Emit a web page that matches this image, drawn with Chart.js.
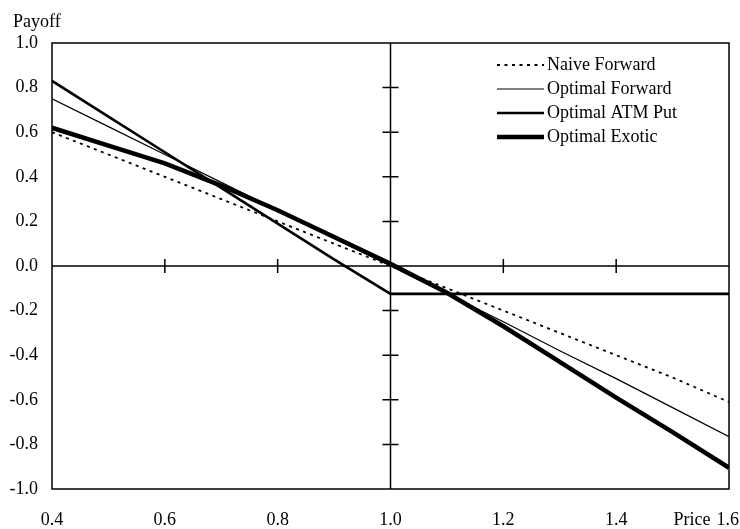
<!DOCTYPE html>
<html>
<head>
<meta charset="utf-8">
<script src="https://cdn.jsdelivr.net/npm/chart.js@4.4.1/dist/chart.umd.min.js"></script>
<style>
  html, body { margin: 0; padding: 0; background: #fff; }
  #wrap { width: 740px; height: 529px; }
</style>
</head>
<body>
<div id="wrap"><canvas id="payoffChart" width="740" height="529"></canvas></div>
<script>
// prices on the x axis
const prices = [0.4, 0.5, 0.6, 0.7, 0.8, 0.9, 1.0, 1.1, 1.2, 1.3, 1.4, 1.5, 1.6];

// payoff of each hedge
const naiveForward   = [0.60, 0.50, 0.40, 0.30, 0.20, 0.10, 0.00, -0.10, -0.20, -0.30, -0.40, -0.50, -0.61];
const optimalForward = [0.75, 0.625, 0.50, 0.375, 0.25, 0.125, 0.00, -0.125, -0.25, -0.38, -0.505, -0.635, -0.765];
const optimalAtmPut  = [0.83, 0.67, 0.51, 0.35, 0.19, 0.03, -0.125, -0.125, -0.125, -0.125, -0.125, -0.125, -0.125];
const optimalExotic  = [0.62, 0.54, 0.46, 0.36, 0.25, 0.13, 0.01, -0.12, -0.27, -0.43, -0.59, -0.745, -0.905];

const seriesNames = ['Naive Forward', 'Optimal Forward', 'Optimal ATM Put', 'Optimal Exotic'];

// tick values
const xTicks = [0.4, 0.6, 0.8, 1.0, 1.2, 1.4, 1.6];
const yTicks = [-1.0, -0.8, -0.6, -0.4, -0.2, 0.0, 0.2, 0.4, 0.6, 0.8, 1.0];

const FONT = "'Liberation Serif', 'Times New Roman', serif";

function pts(values) {
    return prices.map((p, i) => ({ x: p, y: values[i] }));
}

// frame, the cross axes through (1.0, 0) with their ticks, the legend and axis names
const paperPlugin = {
    id: 'paper',
    afterDatasetsDraw(chart) {
        const ctx = chart.ctx;
        const a = chart.chartArea;
        const xs = chart.scales.x;
        const ys = chart.scales.y;
        const cx = xs.getPixelForValue(1.0);
        const cy = ys.getPixelForValue(0);

        ctx.save();
        ctx.strokeStyle = '#000';
        ctx.lineWidth = 1.5;
        ctx.setLineDash([]);

        // frame
        ctx.strokeRect(a.left, a.top, a.right - a.left, a.bottom - a.top);

        // cross axes
        ctx.beginPath();
        ctx.moveTo(cx, a.top);
        ctx.lineTo(cx, a.bottom);
        ctx.moveTo(a.left, cy);
        ctx.lineTo(a.right, cy);
        ctx.stroke();

        // ticks on the vertical axis
        ctx.beginPath();
        yTicks.forEach(v => {
            if (v === 0 || Math.abs(v) === 1) return;
            const y = ys.getPixelForValue(v);
            ctx.moveTo(cx - 8, y);
            ctx.lineTo(cx + 8, y);
        });
        // ticks on the horizontal axis
        xTicks.forEach(v => {
            if (v === 1.0 || v === 0.4 || v === 1.6) return;
            const x = xs.getPixelForValue(v);
            ctx.moveTo(x, cy - 7);
            ctx.lineTo(x, cy + 7);
        });
        ctx.stroke();

        // axis names, and the last x label pushed inside the canvas
        ctx.fillStyle = '#000';
        ctx.font = '18px ' + FONT;
        ctx.textBaseline = 'middle';
        ctx.textAlign = 'left';
        ctx.fillText('Payoff', 13, 22);
        ctx.textAlign = 'center';
        ctx.fillText('Price', xs.getPixelForValue(1.6) - 37, a.bottom + 31);
        ctx.textAlign = 'right';
        ctx.fillText(xTicks[xTicks.length - 1].toFixed(1), xs.getPixelForValue(1.6) + 10, a.bottom + 31);

        // legend
        chart.data.datasets.forEach((ds, i) => {
            const y = a.top + 22 + i * 24;
            const x0 = a.right - 232;
            ctx.beginPath();
            ctx.lineWidth = ds.borderWidth;
            ctx.setLineDash(ds.borderDash || []);
            ctx.moveTo(x0, y);
            ctx.lineTo(x0 + 47, y);
            ctx.stroke();
            ctx.setLineDash([]);
            ctx.textAlign = 'left';
            ctx.fillText(ds.label, x0 + 50, y);
        });
        ctx.restore();
    }
};

const data = {
    datasets: [
        { label: seriesNames[0], data: pts(naiveForward), borderColor: '#000', borderWidth: 1.8, borderDash: [3, 4.5] },
        { label: seriesNames[1], data: pts(optimalForward), borderColor: '#000', borderWidth: 1.2 },
        { label: seriesNames[2], data: pts(optimalAtmPut), borderColor: '#000', borderWidth: 2.6 },
        { label: seriesNames[3], data: pts(optimalExotic), borderColor: '#000', borderWidth: 4.6 }
    ]
};

const config = {
    type: 'line',
    data: data,
    options: {
        responsive: false,
        animation: false,
        devicePixelRatio: 1,
        layout: { padding: { top: 43, right: 11, left: 0, bottom: 0 } },
        elements: {
            point: { radius: 0 },
            line: { tension: 0, fill: false }
        },
        scales: {
            x: {
                type: 'linear',
                min: 0.4,
                max: 1.6,
                afterFit: s => { s.height = 40; s.paddingLeft = 0; s.paddingRight = 0; },
                afterBuildTicks: s => { s.ticks = xTicks.map(v => ({ value: v })); },
                grid: { display: false, drawTicks: false },
                border: { display: false },
                ticks: {
                    padding: 20,
                    color: '#000',
                    font: { family: FONT, size: 18 },
                    maxRotation: 0,
                    // 1.6 is drawn by the plugin so it stays inside the canvas
                    callback: v => (v === 1.6 ? '' : v.toFixed(1))
                }
            },
            y: {
                type: 'linear',
                min: -1,
                max: 1,
                afterFit: s => { s.width = 52; s.paddingTop = 0; s.paddingBottom = 0; },
                afterBuildTicks: s => { s.ticks = yTicks.map(v => ({ value: v })); },
                grid: { display: false, drawTicks: false },
                border: { display: false },
                ticks: {
                    padding: 14,
                    color: '#000',
                    font: { family: FONT, size: 18 },
                    callback: v => v.toFixed(1)
                }
            }
        },
        plugins: {
            legend: { display: false },
            tooltip: { enabled: false }
        }
    },
    plugins: [paperPlugin]
};

new Chart(document.getElementById('payoffChart'), config);
</script>
</body>
</html>
